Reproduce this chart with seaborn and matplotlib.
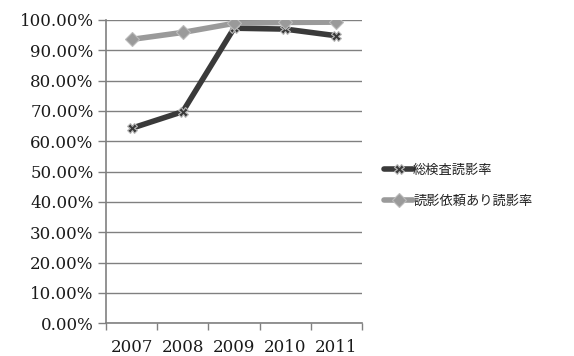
import matplotlib
matplotlib.use("Agg")
import matplotlib.pyplot as plt
import seaborn as sns
import pandas as pd
import numpy as np
from matplotlib.ticker import FuncFormatter, FixedLocator

years = ["2007", "2008", "2009", "2010", "2011"]
total_rate = [64.3, 69.8, 97.3, 97.0, 94.8]
requested_rate = [93.6, 95.9, 98.9, 99.2, 99.3]
series_names = ["総検査読影率", "読影依頼あり読影率"]

sns.set_theme(style="white")
plt.rcParams["font.family"] = ["DejaVu Serif", "Noto Sans CJK JP"]

df = pd.DataFrame({
    "year": years * 2,
    "rate": total_rate + requested_rate,
    "series": [series_names[0]] * len(years) + [series_names[1]] * len(years),
})

fig = plt.figure(figsize=(5.74, 3.56), dpi=100)
ax = fig.add_axes([106 / 574, 1 - 323.3 / 356, (362 - 106) / 574, (323.3 - 20) / 356])

palette = {series_names[0]: "#3a3a3a", series_names[1]: "#9a9a9a"}
markers = {series_names[0]: "X", series_names[1]: "D"}
sns.lineplot(data=df, x="year", y="rate", hue="series", style="series",
             palette=palette, markers=markers, dashes=False, linewidth=4,
             markersize=7, markeredgecolor="#bbbbbb", markeredgewidth=0.8,
             ax=ax, sort=False)

ax.set_ylim(0, 100)
ax.set_xlim(-0.5, len(years) - 0.5)
ax.yaxis.set_major_locator(FixedLocator(np.arange(0, 101, 10)))
ax.yaxis.set_major_formatter(FuncFormatter(lambda v, p: f"{v:.2f}%"))
ax.grid(axis="y", color="#808080", linewidth=1.0)
ax.set_axisbelow(True)

ax.set_xticks(range(len(years)))
ax.set_xticklabels(years)
ax.set_xticks(np.arange(-0.5, len(years), 1.0), minor=True)
ax.tick_params(axis="x", which="major", length=0, pad=11, labelsize=12, colors="#1a1a1a")
ax.tick_params(axis="x", which="minor", length=5, width=1, color="#808080", direction="out")
ax.tick_params(axis="y", which="major", length=6, width=1, color="#808080", direction="out",
               labelsize=12, colors="#1a1a1a", pad=3)
ax.xaxis.set_ticks_position("bottom")
ax.yaxis.set_ticks_position("left")

for s in ["top", "right"]:
    ax.spines[s].set_visible(False)
for s in ["left", "bottom"]:
    ax.spines[s].set_color("#808080")
    ax.spines[s].set_linewidth(1.2)

ax.set_xlabel("")
ax.set_ylabel("")

leg = ax.legend(loc="center left", bbox_to_anchor=(1.04, 0.454), frameon=False,
                prop={"family": ["Noto Sans CJK JP"], "size": 9.5},
                handlelength=2.2, handletextpad=0.0, labelspacing=1.35)
for t in leg.get_texts():
    t.set_color("#222222")

fig.savefig("out.png", dpi=100, facecolor="white")
